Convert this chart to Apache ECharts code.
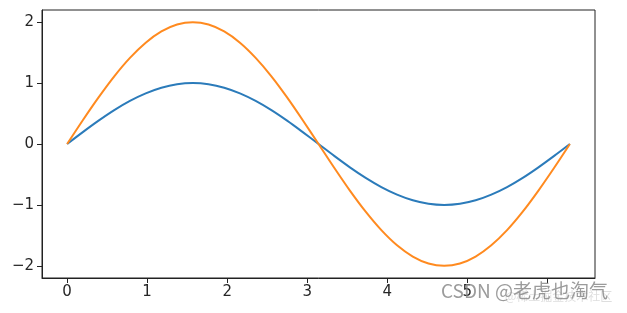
<!DOCTYPE html>
<html>
<head>
<meta charset="utf-8">
<script src="https://cdn.jsdelivr.net/npm/echarts@6/dist/echarts.min.js"></script>
<style>html,body{margin:0;padding:0;background:#fff;}#c{width:627px;height:313px;}</style>
</head>
<body>
<div id="c"></div>
<script>
var xValues = [0, 0.196, 0.393, 0.589, 0.785, 0.982, 1.178, 1.374, 1.571, 1.767, 1.963, 2.160, 2.356, 2.553, 2.749, 2.945, 3.142, 3.338, 3.534, 3.731, 3.927, 4.123, 4.320, 4.516, 4.712, 4.909, 5.105, 5.301, 5.498, 5.694, 5.890, 6.087, 6.283];
var sinValues = [0, 0.195, 0.383, 0.556, 0.707, 0.831, 0.924, 0.981, 1.0, 0.981, 0.924, 0.831, 0.707, 0.556, 0.383, 0.195, 0, -0.195, -0.383, -0.556, -0.707, -0.831, -0.924, -0.981, -1.0, -0.981, -0.924, -0.831, -0.707, -0.556, -0.383, -0.195, 0];
var sin2Values = [0, 0.390, 0.765, 1.111, 1.414, 1.663, 1.848, 1.962, 2.0, 1.962, 1.848, 1.663, 1.414, 1.111, 0.765, 0.390, 0, -0.390, -0.765, -1.111, -1.414, -1.663, -1.848, -1.962, -2.0, -1.962, -1.848, -1.663, -1.414, -1.111, -0.765, -0.390, 0];
var xTicks = [0, 1, 2, 3, 4, 5, 6];
var xTickLabels = [0, 1, 2, 3, 4, 5];
var yTicks = [-2, -1, 0, 1, 2];
var watermark = 'CSDN @老虎也淘气';
var watermark2 = '@稀土掘金技术社区';

function pairs(xs, ys) { return xs.map(function (x, i) { return [x, ys[i]]; }); }
var font = 'DejaVu Sans';
var chart = echarts.init(document.getElementById('c'), null, {renderer: 'canvas'});
chart.setOption({
  animation: false,
  backgroundColor: '#fff',
  grid: {left: 42, right: 32, top: 10, bottom: 35, show: true, borderColor: '#222', borderWidth: 1, backgroundColor: 'transparent'},
  xAxis: {
    type: 'value', min: -0.314, max: 6.597,
    splitLine: {show: false},
    axisLine: {show: true, onZero: false, lineStyle: {color: '#222', width: 1}},
    axisTick: {show: true, length: 5, inside: false, customValues: xTicks, lineStyle: {color: '#222'}},
    axisLabel: {customValues: xTickLabels, color: '#262626', fontFamily: font, fontSize: 15, margin: 7}
  },
  yAxis: {
    type: 'value', min: -2.2, max: 2.2,
    splitLine: {show: false},
    axisLine: {show: true, onZero: false, lineStyle: {color: '#222', width: 1}},
    axisTick: {show: true, length: 5, inside: false, customValues: yTicks, lineStyle: {color: '#222'}},
    axisLabel: {customValues: yTicks, color: '#262626', fontFamily: font, fontSize: 15, margin: 8,
      formatter: function (v) { return String(v).replace('-', '\u2212'); }}
  },
  series: [
    {type: 'line', data: pairs(xValues, sinValues), showSymbol: false, smooth: 0.3, lineStyle: {color: '#2b7bba', width: 2}, itemStyle: {color: '#2b7bba'}},
    {type: 'line', data: pairs(xValues, sin2Values), showSymbol: false, smooth: 0.3, lineStyle: {color: '#ff8a1f', width: 2}, itemStyle: {color: '#ff8a1f'}}
  ],
  graphic: [
    {type: 'text', left: 505, top: 290, z: 100, style: {text: watermark2, fill: 'rgba(160,160,160,0.35)', font: '12px "Noto Sans CJK SC"'}},
    {type: 'text', left: 441, top: 281, z: 101, style: {text: watermark, fill: 'rgba(130,130,130,0.8)', font: '19px "Noto Sans CJK SC"'}}
  ]
});
</script>
</body>
</html>
